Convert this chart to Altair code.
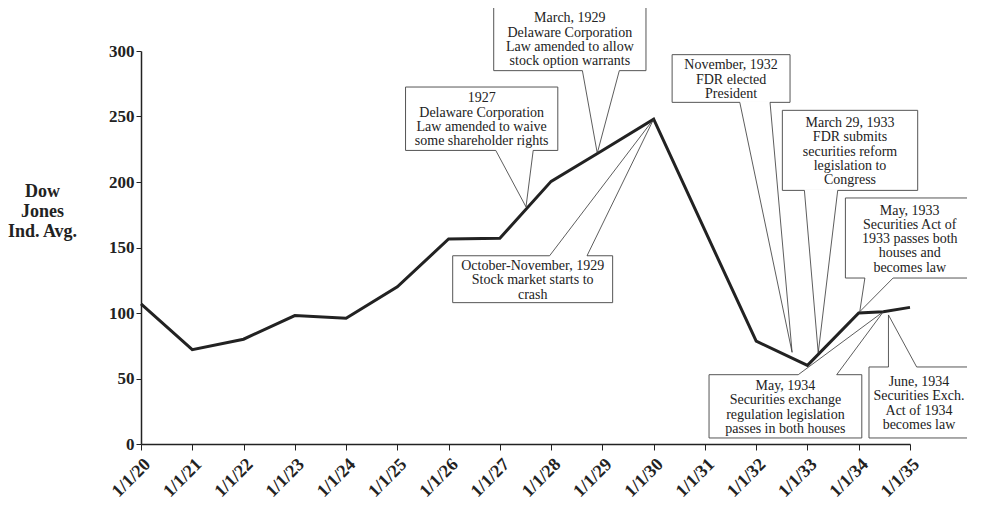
import altair as alt
import pandas as pd

# ---- main series (year as decimal, Dow Jones Industrial Average) ----
years = [1920, 1921, 1922, 1923, 1924, 1925, 1926, 1927, 1928, 1929, 1930,
         1931, 1932, 1933, 1934, 1934.48, 1935]
dow = [107, 72, 80, 98, 96, 120, 156.5, 157, 200.5, 224, 248,
       163, 78.5, 60, 100, 101, 104.3]
tick_years = list(range(1920, 1936))
y_ticks = [0, 50, 100, 150, 200, 250, 300]

# ---- callouts (positions in data units: year / index value) ----
callout_text = [
    "1927\nDelaware Corporation\nLaw amended to waive\nsome shareholder rights",
    "March, 1929\nDelaware Corporation\nLaw amended to allow\nstock option warrants",
    "October-November, 1929\nStock market starts to\ncrash",
    "November, 1932\nFDR elected\nPresident",
    "March 29, 1933\nFDR submits\nsecurities reform\nlegislation to\nCongress",
    "May, 1933\nSecurities Act of\n1933 passes both\nhouses and\nbecomes law",
    "May, 1934\nSecurities exchange\nregulation legislation\npasses in both houses",
    "June, 1934\nSecurities Exch.\nAct of 1934\nbecomes law",
]
box_left = [1925.16, 1926.88, 1926.08, 1930.36, 1932.51, 1933.74, 1931.08, 1934.20]
box_right = [1928.13, 1929.85, 1929.20, 1932.66, 1935.15, 1936.25, 1934.06, 1936.15]
box_top = [272.5, 334.0, 143.7, 297.2, 254.7, 187.8, 52.9, 58.8]
box_bottom = [224.1, 285.0, 107.9, 260.8, 193.6, 126.7, 4.6, 4.6]
base_y = [224.1, 285.0, 143.7, 260.8, 193.6, 126.7, 52.9, 58.8]
base_x1 = [1926.92, 1928.61, 1927.97, 1931.68, 1932.94, 1934.12, 1932.82, 1934.58]
base_x2 = [1927.65, 1929.33, 1928.70, 1932.27, 1933.59, 1934.67, 1933.57, 1935.13]
tip_x = [1927.51, 1928.90, 1930.00, 1932.70, 1933.21, 1934.02, 1934.48, 1934.58]
tip_y = [181, 222, 248, 70, 69.5, 101, 101, 98.5]

SERIF = "Liberation Serif"
W, H = 769, 393
LINE_H = 14.3
UNITS_PER_PX = 300 / H

line_df = pd.DataFrame({"year": years, "dow": dow})

box_df = pd.DataFrame({
    "year": box_left, "year2": box_right, "dow": box_top, "dow2": box_bottom,
})

text_y = []
for t, b, s in zip(box_top, box_bottom, callout_text):
    n = len(s.split("\n"))
    text_y.append((t + b) / 2 + (n * LINE_H / 2) * UNITS_PER_PX - 1.0)
text_df = pd.DataFrame({
    "year": [(a + b) / 2 for a, b in zip(box_left, box_right)],
    "dow": text_y,
    "label": callout_text,
})

gap_df = pd.DataFrame({"year": base_x1, "year2": base_x2, "dow": base_y})

ptr_rows = []
for i in range(len(callout_text)):
    for bx in (base_x1[i], base_x2[i]):
        ptr_rows.append({"year": bx, "dow": base_y[i], "year2": tip_x[i], "dow2": tip_y[i]})
ptr_df = pd.DataFrame(ptr_rows)

xscale = alt.Scale(domain=[1920, 1935], nice=False, zero=False)
yscale = alt.Scale(domain=[0, 300], nice=False, zero=True)

line = alt.Chart(line_df).mark_line(color="#222222", strokeWidth=3, strokeJoin="miter").encode(
    x=alt.X("year:Q", scale=xscale,
            axis=alt.Axis(values=tick_years, title=None, grid=False,
                          labelExpr="'1/1/' + slice(toString(datum.value), 2)",
                          labelAngle=-45, labelAlign="right", labelBaseline="top",
                          labelFont=SERIF, labelFontSize=18, labelFontWeight="bold",
                          labelColor="#222", labelPadding=5, labelOverlap=False,
                          labelBound=False, labelFlush=False,
                          tickSize=6, tickColor="#222", domainColor="#222",
                          domainWidth=1.5, tickWidth=1)),
    y=alt.Y("dow:Q", scale=yscale,
            axis=alt.Axis(values=y_ticks, grid=False,
                          title=["Dow", "Jones", "Ind. Avg."], titleAngle=0,
                          titleAlign="center", titleBaseline="middle",
                          titleX=-99, titleY=140, titleFont=SERIF, titleFontSize=18,
                          titleFontWeight="bold", titleLineHeight=20, titleColor="#222",
                          labelFont=SERIF, labelFontSize=17, labelFontWeight="bold",
                          labelColor="#222", labelPadding=2,
                          tickSize=5, tickColor="#222", domainColor="#222",
                          domainWidth=1.5, tickWidth=1)),
)

boxes = alt.Chart(box_df).mark_rect(fill="white", stroke="#555", strokeWidth=1).encode(
    x=alt.X("year:Q", scale=xscale), x2="year2:Q",
    y=alt.Y("dow:Q", scale=yscale), y2="dow2:Q",
)

gaps = alt.Chart(gap_df).mark_rule(color="white", strokeWidth=2.5).encode(
    x=alt.X("year:Q", scale=xscale), x2="year2:Q",
    y=alt.Y("dow:Q", scale=yscale),
)

pointers = alt.Chart(ptr_df).mark_rule(color="#333", strokeWidth=0.8).encode(
    x=alt.X("year:Q", scale=xscale), x2="year2:Q",
    y=alt.Y("dow:Q", scale=yscale), y2="dow2:Q",
)

texts = alt.Chart(text_df).mark_text(
    font=SERIF, fontSize=14, lineBreak="\n", lineHeight=LINE_H,
    align="center", baseline="top", color="#222",
).encode(
    x=alt.X("year:Q", scale=xscale),
    y=alt.Y("dow:Q", scale=yscale),
    text="label:N",
)

chart = alt.layer(line, boxes, gaps, pointers, texts).properties(
    width=W, height=H,
    autosize=alt.AutoSizeParams(type="none"),
    padding={"left": 133, "top": 43, "right": 57, "bottom": 57},
).configure(background="white").configure_view(strokeWidth=0, stroke="transparent")

chart.save("out.html", embed_options={"renderer": "svg", "actions": False})
